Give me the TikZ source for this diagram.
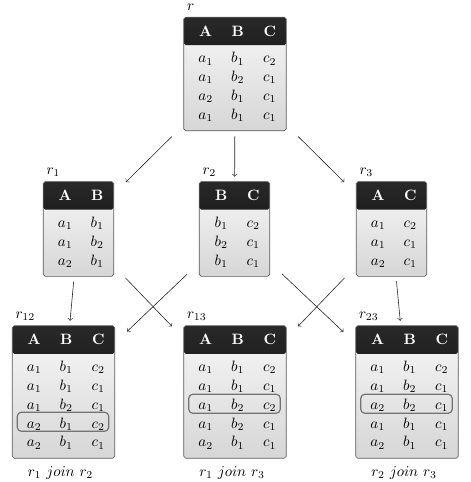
\documentclass[tikz,border=0pt]{standalone}
\usepackage{array}
\setlength\tabcolsep{0pt}
\newcolumntype{M}{>{$}w{c}{21.33pt}<{$}}
\newcommand\hd[1]{\textcolor{white}{\textbf{#1}}}
\newcommand\hstrut{\rule[-9.25pt]{0pt}{18.67pt}}
\newcommand\rstrut{\rule[-4.2pt]{0pt}{12pt}}
\newenvironment{rel}[1]{\begin{tabular}{@{\hspace{4pt}}*{#1}{M}@{\hspace{.33pt}}}}{\end{tabular}}
\tikzset{
  relbox/.style={draw=black!65, rounded corners=1.3pt, inner xsep=0pt, inner ysep=3.33pt,
    outer sep=0pt, top color=black!3, bottom color=black!16,
    path picture={\shade[top color=black!84, bottom color=black!98]
      (path picture bounding box.north west) rectangle
      ([yshift=-18.67pt]path picture bounding box.north east);}},
  tag/.style={anchor=base west, inner sep=0pt, xshift=2pt, yshift=4.8pt},
  joinlbl/.style={anchor=base, inner sep=0pt, xshift=-2pt, yshift=-12.3pt},
  link/.style={->, black!85},
  vlink/.style={link, shorten <=3.33pt, shorten >=3.33pt},
  dlink/.style={link, shorten <=11.33pt, shorten >=11.33pt},
  hilite/.style={draw=black!55, line width=0.8pt, rounded corners=2.7pt}
}
\begin{document}
\begin{tikzpicture}[x=0.6667pt,y=-0.6667pt]
    \useasboundingbox (0,0) rectangle (471,482);

    % source relation
    \node[relbox, label={[tag]north west:$r$}] (r) at (235,74) {\begin{rel}{3}
        \hd{A}\hstrut & \hd{B} & \hd{C}\\
        a_1\rstrut & b_1 & c_2\\
        a_1\rstrut & b_2 & c_1\\
        a_2\rstrut & b_1 & c_1\\
        a_1\rstrut & b_1 & c_1
    \end{rel}};

    % projections
    \node[relbox, label={[tag]north west:$r_1$}] (r1) at (78.5,229) {\begin{rel}{2}
        \hd{A}\hstrut & \hd{B}\\
        a_1\rstrut & b_1\\
        a_1\rstrut & b_2\\
        a_2\rstrut & b_1
    \end{rel}};
    \node[relbox, label={[tag]north west:$r_2$}] (r2) at (234.5,229) {\begin{rel}{2}
        \hd{B}\hstrut & \hd{C}\\
        b_1\rstrut & c_2\\
        b_2\rstrut & c_1\\
        b_1\rstrut & c_1
    \end{rel}};
    \node[relbox, label={[tag]north west:$r_3$}] (r3) at (391.5,229) {\begin{rel}{2}
        \hd{A}\hstrut & \hd{C}\\
        a_1\rstrut & c_2\\
        a_1\rstrut & c_1\\
        a_2\rstrut & c_1
    \end{rel}};

    % joins
    \node[relbox, label={[tag]north west:$r_{12}$}, label={[joinlbl]south:$r_1\ join\ r_2$}]
        (r12) at (63.5,392) {\begin{rel}{3}
        \hd{A}\hstrut & \hd{B} & \hd{C}\\
        a_1\rstrut & b_1 & c_2\\
        a_1\rstrut & b_1 & c_1\\
        a_1\rstrut & b_2 & c_1\\
        a_2\rstrut & b_1 & c_2\\
        a_2\rstrut & b_1 & c_1
    \end{rel}};
    \node[relbox, label={[tag]north west:$r_{13}$}, label={[joinlbl]south:$r_1\ join\ r_3$}]
        (r13) at (235,392) {\begin{rel}{3}
        \hd{A}\hstrut & \hd{B} & \hd{C}\\
        a_1\rstrut & b_1 & c_2\\
        a_1\rstrut & b_1 & c_1\\
        a_1\rstrut & b_2 & c_2\\
        a_1\rstrut & b_2 & c_1\\
        a_2\rstrut & b_1 & c_1
    \end{rel}};
    \node[relbox, label={[tag]north west:$r_{23}$}, label={[joinlbl]south:$r_2\ join\ r_3$}]
        (r23) at (407,392) {\begin{rel}{3}
        \hd{A}\hstrut & \hd{B} & \hd{C}\\
        a_1\rstrut & b_1 & c_2\\
        a_1\rstrut & b_2 & c_1\\
        a_2\rstrut & b_2 & c_1\\
        a_1\rstrut & b_1 & c_1\\
        a_2\rstrut & b_1 & c_1
    \end{rel}};

    % spurious tuples
    \draw[hilite] ([shift={(5,86.5)}]r12.north west) rectangle ([shift={(-6,105.5)}]r12.north east);
    \draw[hilite] ([shift={(5,68.5)}]r13.north west) rectangle ([shift={(-6,87.5)}]r13.north east);
    \draw[hilite] ([shift={(5,68.5)}]r23.north west) rectangle ([shift={(-6,87.5)}]r23.north east);

    \draw[dlink] (r) -- (r1);
    \draw[vlink] (r) -- (r2);
    \draw[dlink] (r) -- (r3);
    \draw[vlink] (r1) -- (r12);
    \draw[dlink] (r1) -- (r13);
    \draw[dlink] (r2) -- (r12);
    \draw[dlink] (r2) -- (r23);
    \draw[dlink] (r3) -- (r13);
    \draw[vlink] (r3) -- (r23);
\end{tikzpicture}
\end{document}
